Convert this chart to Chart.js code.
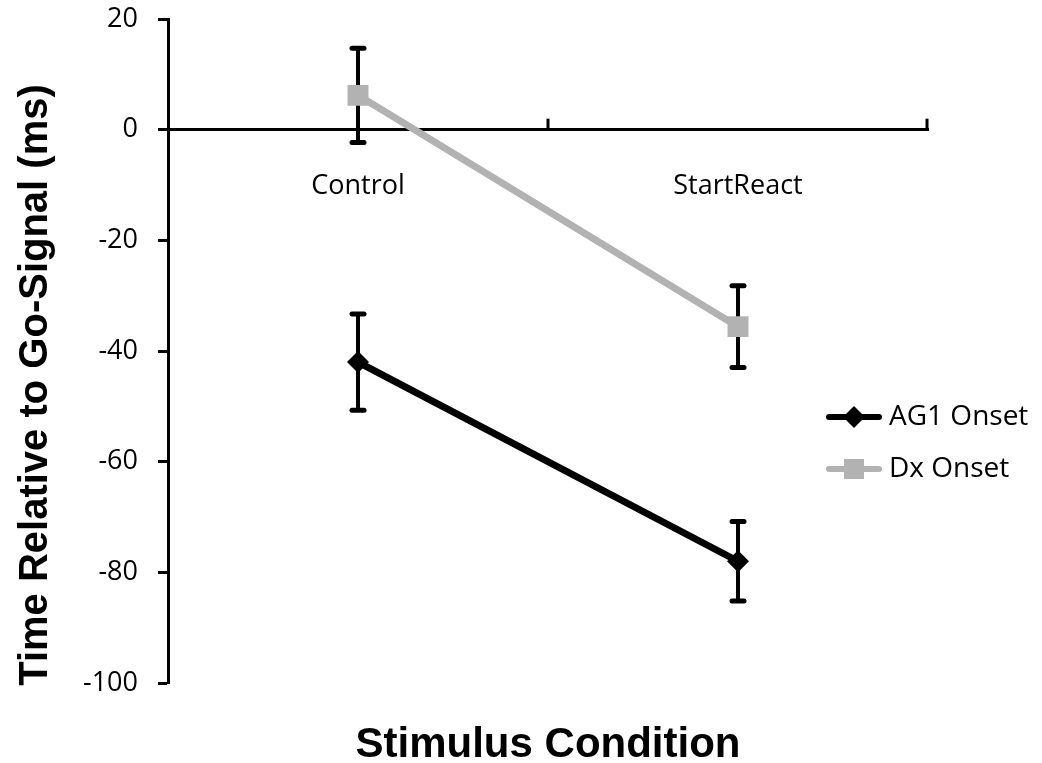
<!DOCTYPE html>
<html>
<head>
<meta charset="utf-8">
<script src="https://cdn.jsdelivr.net/npm/chart.js@4/dist/chart.umd.min.js"></script>
<style>
  html, body { margin: 0; padding: 0; background: #ffffff; }
  #c { display: block; }
</style>
</head>
<body>
<canvas id="c" width="1042" height="763"></canvas>
<script>
// ---- data ----
const categories = ['Control', 'StartReact'];
const ag1Values = [-42, -78];
const ag1Errors = [8.7, 7.2];
const dxValues = [6.2, -35.6];
const dxErrors = [8.5, 7.4];
const yMin = -100, yMax = 20, yStep = 20;
const seriesLabels = ['AG1 Onset', 'Dx Onset'];
const yTitle = 'Time Relative to Go-Signal (ms)';
const xTitle = 'Stimulus Condition';

const BLACK = '#000000';
const GRAY = '#b2b2b2';
const TICK_FONT = { family: "'Open Sans', sans-serif", size: 27 };
const Y_TITLE_FONT = "bold 40px 'Liberation Sans', Arial, sans-serif";
const X_TITLE_FONT = "bold 42px 'Liberation Sans', Arial, sans-serif";

// error bars drawn under the markers
const errorBars = {
  id: 'errorBars',
  beforeDatasetsDraw(chart) {
    const ctx = chart.ctx;
    const xs = chart.scales.x, ys = chart.scales.y;
    ctx.save();
    ctx.strokeStyle = BLACK;
    ctx.lineCap = 'round';
    chart.data.datasets.forEach(ds => {
      ds.data.forEach((v, i) => {
        const e = ds.errors[i];
        const x = xs.getPixelForValue(i);
        const yT = ys.getPixelForValue(v + e);
        const yB = ys.getPixelForValue(v - e);
        ctx.lineWidth = 4;
        ctx.beginPath(); ctx.moveTo(x, yT); ctx.lineTo(x, yB); ctx.stroke();
        ctx.lineWidth = 5;
        ctx.beginPath(); ctx.moveTo(x - 6, yT); ctx.lineTo(x + 6, yT); ctx.stroke();
        ctx.beginPath(); ctx.moveTo(x - 6, yB); ctx.lineTo(x + 6, yB); ctx.stroke();
      });
    });
    ctx.restore();
  }
};

// upward tick marks on the x axis at category boundaries
const xTicksUp = {
  id: 'xTicksUp',
  afterDraw(chart) {
    const ctx = chart.ctx;
    const xs = chart.scales.x, ys = chart.scales.y;
    const y0 = ys.getPixelForValue(0);
    const n = chart.data.labels.length;
    const pts = [];
    for (let i = 0; i < n - 1; i++) pts.push((xs.getPixelForValue(i) + xs.getPixelForValue(i + 1)) / 2);
    pts.push(chart.chartArea.right - 1);
    ctx.save();
    ctx.strokeStyle = BLACK;
    ctx.lineWidth = 3;
    pts.forEach(x => {
      ctx.beginPath(); ctx.moveTo(x, y0); ctx.lineTo(x, y0 - 11); ctx.stroke();
    });
    ctx.restore();
  }
};

// axis titles
const axisTitles = {
  id: 'axisTitles',
  afterDraw(chart) {
    const ctx = chart.ctx;
    const a = chart.chartArea;
    ctx.save();
    ctx.fillStyle = BLACK;
    ctx.textAlign = 'center';
    ctx.textBaseline = 'middle';
    ctx.font = X_TITLE_FONT;
    ctx.fillText(xTitle, (a.left + a.right) / 2, 745);
    ctx.font = Y_TITLE_FONT;
    ctx.translate(36, 385);
    ctx.rotate(-Math.PI / 2);
    ctx.fillText(yTitle, 0, 0);
    ctx.restore();
  }
};

// legend: line with marker
const lineLegend = {
  id: 'lineLegend',
  afterDraw(chart) {
    const ctx = chart.ctx;
    const rows = [417, 469];
    ctx.save();
    chart.data.datasets.forEach((ds, i) => {
      const y = rows[i];
      ctx.strokeStyle = ds.borderColor;
      ctx.lineWidth = 6;
      ctx.lineCap = 'round';
      ctx.beginPath(); ctx.moveTo(829, y); ctx.lineTo(879, y); ctx.stroke();
      ctx.fillStyle = ds.backgroundColor;
      ctx.beginPath();
      if (ds.pointStyle === 'rectRot') {
        ctx.moveTo(854, y - 11); ctx.lineTo(865, y); ctx.lineTo(854, y + 11); ctx.lineTo(843, y); ctx.closePath();
      } else {
        ctx.rect(844, y - 10, 20, 20);
      }
      ctx.fill();
      ctx.fillStyle = BLACK;
      ctx.font = "28px 'Open Sans', sans-serif";
      ctx.textAlign = 'left';
      ctx.textBaseline = 'middle';
      ctx.fillText(ds.label, 889, y);
    });
    ctx.restore();
  }
};

new Chart(document.getElementById('c'), {
  type: 'line',
  data: {
    labels: categories,
    datasets: [
      {
        label: seriesLabels[0],
        data: ag1Values,
        errors: ag1Errors,
        borderColor: BLACK,
        backgroundColor: BLACK,
        borderWidth: 7,
        pointStyle: 'rectRot',
        pointRadius: 11,
        pointBorderWidth: 0,
        tension: 0
      },
      {
        label: seriesLabels[1],
        data: dxValues,
        errors: dxErrors,
        borderColor: GRAY,
        backgroundColor: GRAY,
        borderWidth: 7,
        pointStyle: 'rect',
        pointRadius: 14.8,
        pointBorderWidth: 0,
        tension: 0
      }
    ]
  },
  options: {
    responsive: false,
    animation: false,
    devicePixelRatio: 1,
    layout: { padding: { left: 0, top: 19, right: 114, bottom: 80 } },
    plugins: {
      legend: { display: false },
      tooltip: { enabled: false },
      title: { display: false }
    },
    scales: {
      x: {
        type: 'category',
        offset: true,
        position: { y: 0 },
        grid: { display: true, drawOnChartArea: false, drawTicks: false },
        border: { display: true, color: BLACK, width: 3 },
        ticks: { color: BLACK, font: TICK_FONT, padding: 40, maxRotation: 0 }
      },
      y: {
        min: yMin,
        max: yMax,
        afterFit(scale) { scale.width = 168; scale.paddingTop = 0; scale.paddingBottom = 0; },
        grid: { drawOnChartArea: false, drawTicks: true, tickLength: 10, tickColor: BLACK, tickWidth: 3 },
        border: { display: true, color: BLACK, width: 3 },
        ticks: { stepSize: yStep, color: BLACK, font: TICK_FONT, padding: 20 }
      }
    }
  },
  plugins: [errorBars, xTicksUp, axisTitles, lineLegend]
});
</script>
</body>
</html>
